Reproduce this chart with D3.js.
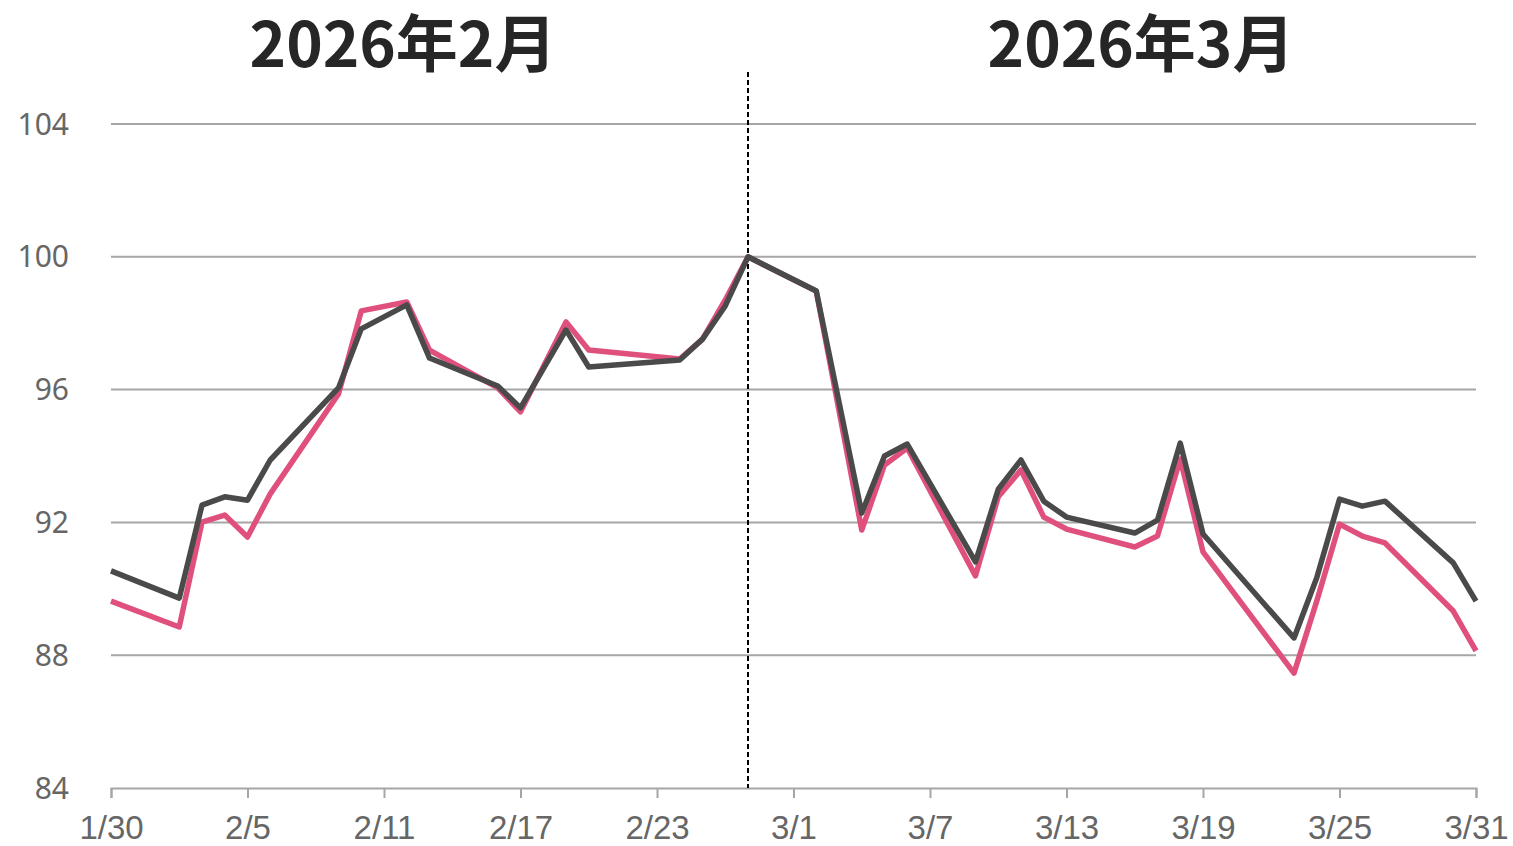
<!DOCTYPE html>
<html><head><meta charset="utf-8">
<script src="https://cdn.jsdelivr.net/npm/d3@7"></script>
<style>body{margin:0;background:#fff}svg{display:block}</style>
</head><body>
<svg id="c" width="1513" height="846"></svg>
<script>
const dates = ["1/30","2/2","2/3","2/4","2/5","2/6","2/9","2/10","2/12","2/13","2/16","2/17","2/19","2/20","2/24","2/25","2/26","2/27","3/2","3/4","3/5","3/6","3/9","3/10","3/11","3/12","3/13","3/16","3/17","3/18","3/19","3/23","3/24","3/25","3/26","3/27","3/30","3/31"];
const darkSeries = [90.54,89.72,92.52,92.77,92.67,93.88,96.05,97.83,98.55,96.95,96.11,95.45,97.8,96.68,96.89,97.52,98.52,100,98.97,92.28,94.0,94.36,90.81,93.0,93.88,92.64,92.16,91.68,92.07,94.39,91.65,88.52,90.33,92.7,92.49,92.64,90.78,89.63];
const pinkSeries = [89.63,88.85,92.01,92.22,91.56,92.86,95.87,98.37,98.64,97.19,96.05,95.33,98.04,97.19,96.92,97.52,98.7,100,98.97,91.77,93.73,94.24,90.39,92.77,93.58,92.16,91.80,91.26,91.59,93.91,91.11,87.46,89.63,91.95,91.59,91.38,89.33,88.13];
const xTicks = ["1/30","2/5","2/11","2/17","2/23","3/1","3/7","3/13","3/19","3/25","3/31"];
const yTicks = [84,88,92,96,100,104];
const titles = ["2026年2月","2026年3月"];
const baseDate = "2/27";

const parse = s => { const [m,d] = s.split("/").map(Number); return new Date(2026, m-1, d); };
const svg = d3.select("#c");
const x = d3.scaleTime().domain([parse("1/30"), parse("3/31")]).range([111, 1476]);
const y = d3.scaleLinear().domain([84, 104]).range([788, 124]);

// gridlines
svg.append("g").selectAll("line").data(yTicks.filter(v => v > 84)).join("line")
  .attr("x1", x.range()[0]).attr("x2", x.range()[1])
  .attr("y1", d => y(d)).attr("y2", d => y(d))
  .attr("stroke", "#a6a6a6").attr("stroke-width", 2);

// y labels
svg.append("g").selectAll("text").data(yTicks).join("text")
  .attr("x", 69).attr("y", d => y(d)).attr("dy", "0.35em")
  .attr("text-anchor", "end").attr("fill", "#666")
  .attr("font-family", "'Noto Sans', 'DejaVu Sans', sans-serif").attr("font-size", 30)
  .text(d => d);

// x axis
const xAxis = d3.axisBottom(x).tickValues(xTicks.map(parse)).tickFormat(d3.timeFormat("%-m/%-d")).tickSizeOuter(0).tickSize(10).tickPadding(18);
const gx = svg.append("g").attr("transform", `translate(0,${y(84)})`).call(xAxis);
gx.select(".domain").attr("stroke", "#a6a6a6").attr("stroke-width", 2);
gx.selectAll(".tick line").attr("stroke", "#a6a6a6").attr("stroke-width", 2);
gx.selectAll(".tick text").attr("fill", "#666")
  .attr("font-family", "'Liberation Sans', Arial, sans-serif")
  .attr("font-size", 33);

// base dashed line
svg.append("line").attr("x1", x(parse(baseDate))).attr("x2", x(parse(baseDate)))
  .attr("y1", 72).attr("y2", y(84))
  .attr("stroke", "#000").attr("stroke-width", 2).attr("stroke-dasharray", "5,3");

const line = d3.line().x((d,i) => x(parse(dates[i]))).y(d => y(d));
svg.append("path").datum(pinkSeries).attr("d", line).attr("fill","none")
  .attr("stroke", "#e0507d").attr("stroke-width", 5.5).attr("stroke-linejoin","round");
svg.append("path").datum(darkSeries).attr("d", line).attr("fill","none")
  .attr("stroke", "#4a4a4a").attr("stroke-width", 5.5).attr("stroke-linejoin","round");

// titles
svg.append("g").selectAll("text").data(titles).join("text")
  .attr("x", (d,i) => i === 0 ? 403 : 1141).attr("y", 67)
  .attr("text-anchor", "middle").attr("fill", "#262626")
  .attr("font-family", "'Noto Sans CJK JP', sans-serif").attr("font-weight", "bold").attr("font-size", 62)
  .text(d => d);
</script>
</body></html>
